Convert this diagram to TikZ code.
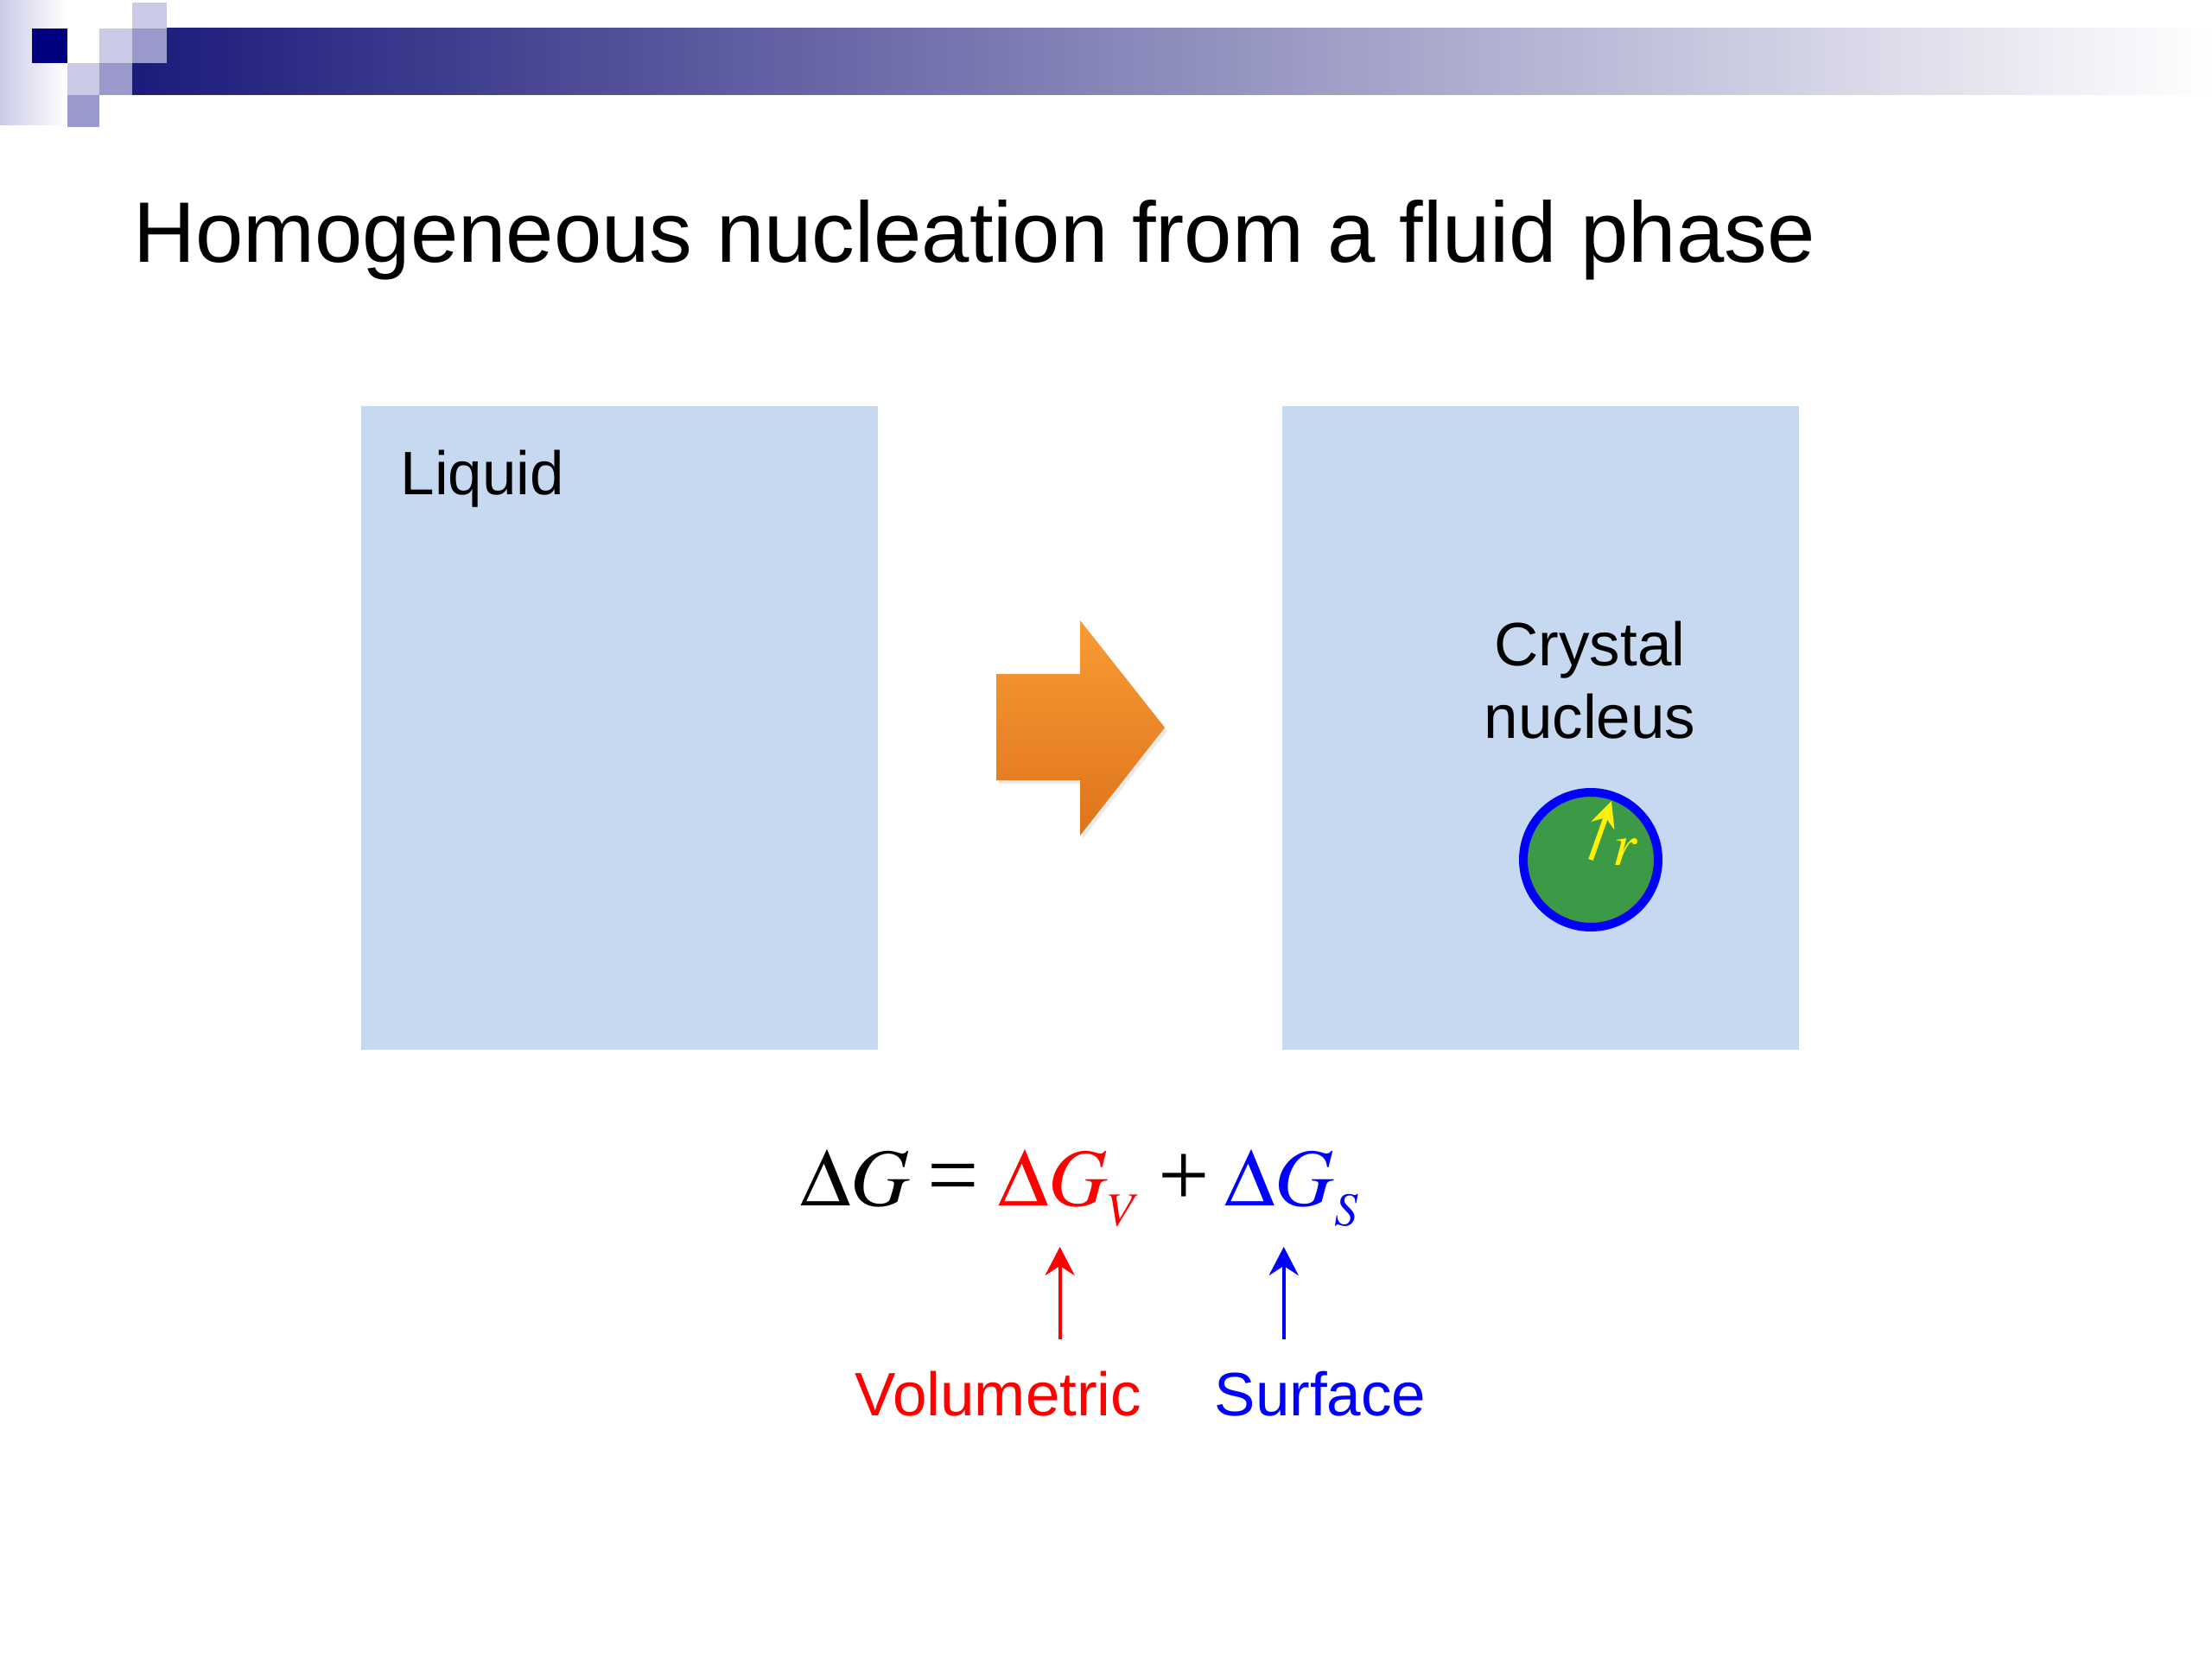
\documentclass[tikz,border=0pt]{standalone}
\usepackage{mathptmx}
\usepackage[no-math]{fontspec}
\setmainfont{Liberation Sans}
\newfontfamily\eqfont{Liberation Serif}
\DeclareMathSizes{27}{27}{15.5}{12}
\usetikzlibrary{arrows.meta}
\definecolor{boxblue}{HTML}{C6D9F1}
\definecolor{decdark}{HTML}{000080}
\definecolor{decmid}{HTML}{9999CC}
\definecolor{declite}{HTML}{CACAE6}
\definecolor{decbar}{HTML}{1B1B7B}
\definecolor{arrtop}{HTML}{F99B35}
\definecolor{arrbot}{HTML}{DE741C}
\definecolor{nucgreen}{HTML}{3C9A46}
\definecolor{ringblue}{HTML}{0000FF}
\definecolor{eqred}{HTML}{FF0000}
\definecolor{eqblue}{HTML}{0000FF}
\newcommand{\lowsub}[1]{\lower2.5pt\hbox{$\scriptstyle #1$}}

\begin{document}
\begin{tikzpicture}[x=1cm,y=1cm,
    lbl/.style={inner sep=0pt,font=\fontsize{20.2}{24}\selectfont},
    eqn/.style={inner sep=0pt,anchor=base west,font=\fontsize{27}{27}\selectfont},
    up/.style={line width=1.2pt,-{Stealth[length=3.3mm,width=3.4mm,inset=1.1mm]}}]
            \useasboundingbox (0,0) rectangle (25.6,-19.2);
            % 左上角的方块
            \shade[left color=declite,right color=white] (0,0) rectangle (0.77,-1.45);
            \shade[left color=decbar,right color=white] (1.53,-0.33) rectangle (25.6,-1.10); %渐变条
            \fill[decdark] (0.37,-0.33) rectangle (0.78,-0.73);
            \fill[declite] (1.15,-0.33) rectangle (1.53,-0.73);
            \fill[declite] (0.78,-0.73) rectangle (1.15,-1.10);
            \fill[declite] (1.53,-0.03) rectangle (1.93,-0.33);
            \fill[decmid] (1.53,-0.33) rectangle (1.93,-0.73);
            \fill[decmid] (1.15,-0.73) rectangle (1.53,-1.10);
            \fill[decmid] (0.78,-1.10) rectangle (1.15,-1.47);
            \node[anchor=base west,inner sep=0pt,font=\fontsize{28.3}{30}\selectfont] (T) at (1.54,-3.04) {Homogeneous nucleation from a fluid phase};
            % 两个液体区域
            \fill[boxblue] (4.18,-4.70) rectangle (10.16,-12.15);
            \fill[boxblue] (14.84,-4.70) rectangle (20.82,-12.15);
            \node[lbl,anchor=base west] (L) at (4.63,-5.73) {Liquid};
            \node[lbl,anchor=north,align=center] (X) at (18.40,-7.18) {Crystal\\nucleus};
            % 橙色箭头
            \fill[black,opacity=0.08] (11.56,-7.84) -- (12.53,-7.84) -- (12.53,-7.22) -- (13.51,-8.46)
                -- (12.53,-9.71) -- (12.53,-9.07) -- (11.56,-9.07) -- cycle; %阴影
            \shade[top color=arrtop,bottom color=arrbot] (11.53,-7.80) -- (12.50,-7.80) -- (12.50,-7.18) -- (13.48,-8.42)
                -- (12.50,-9.67) -- (12.50,-9.03) -- (11.53,-9.03) -- cycle;
            % 晶核
            \coordinate (O) at (18.41,-9.95); %圆心
            \coordinate (R) at (18.65,-9.27);
            \draw[draw=ringblue,line width=0.1cm,fill=nucgreen] (O) circle (0.78);
            \draw[yellow,line width=1.6pt,-{Stealth[length=3mm,width=2.8mm]}] (O) -- (R);
            \node[inner sep=0pt,text=yellow,font=\fontsize{20}{20}\selectfont] (r) at (18.81,-9.86) {$r$};
            % 公式
            \node[eqn] (G) at (9.26,-13.95) {$\Delta G$};
            \node[eqn,font=\fontsize{30}{30}\eqfont] (EQ) at (10.73,-13.95) {=};
            \node[eqn,text=eqred] (GV) at (11.55,-13.95) {$\Delta G_{\lowsub{V}}$};
            \node[eqn,font=\fontsize{30}{30}\eqfont] (PL) at (13.40,-13.95) {+};
            \node[eqn,text=eqblue] (GS) at (14.17,-13.95) {$\Delta G_{\lowsub{S}}$};
            \node[lbl,anchor=base west,text=eqred] (V) at (9.89,-16.38) {Volumetric};
            \node[lbl,anchor=base west,text=eqblue] (S) at (14.05,-16.38) {Surface};
            \draw[up,eqred,shorten <=0.36cm,shorten >=0.48cm] ([xshift=-0.12cm]GV.base |- V.north) -- ([xshift=-0.12cm]GV.base);
            \draw[up,eqblue,shorten <=0.36cm,shorten >=0.48cm] ([xshift=-0.10cm]GS.base |- S.north) -- ([xshift=-0.10cm]GS.base);
\end{tikzpicture}
\end{document}
